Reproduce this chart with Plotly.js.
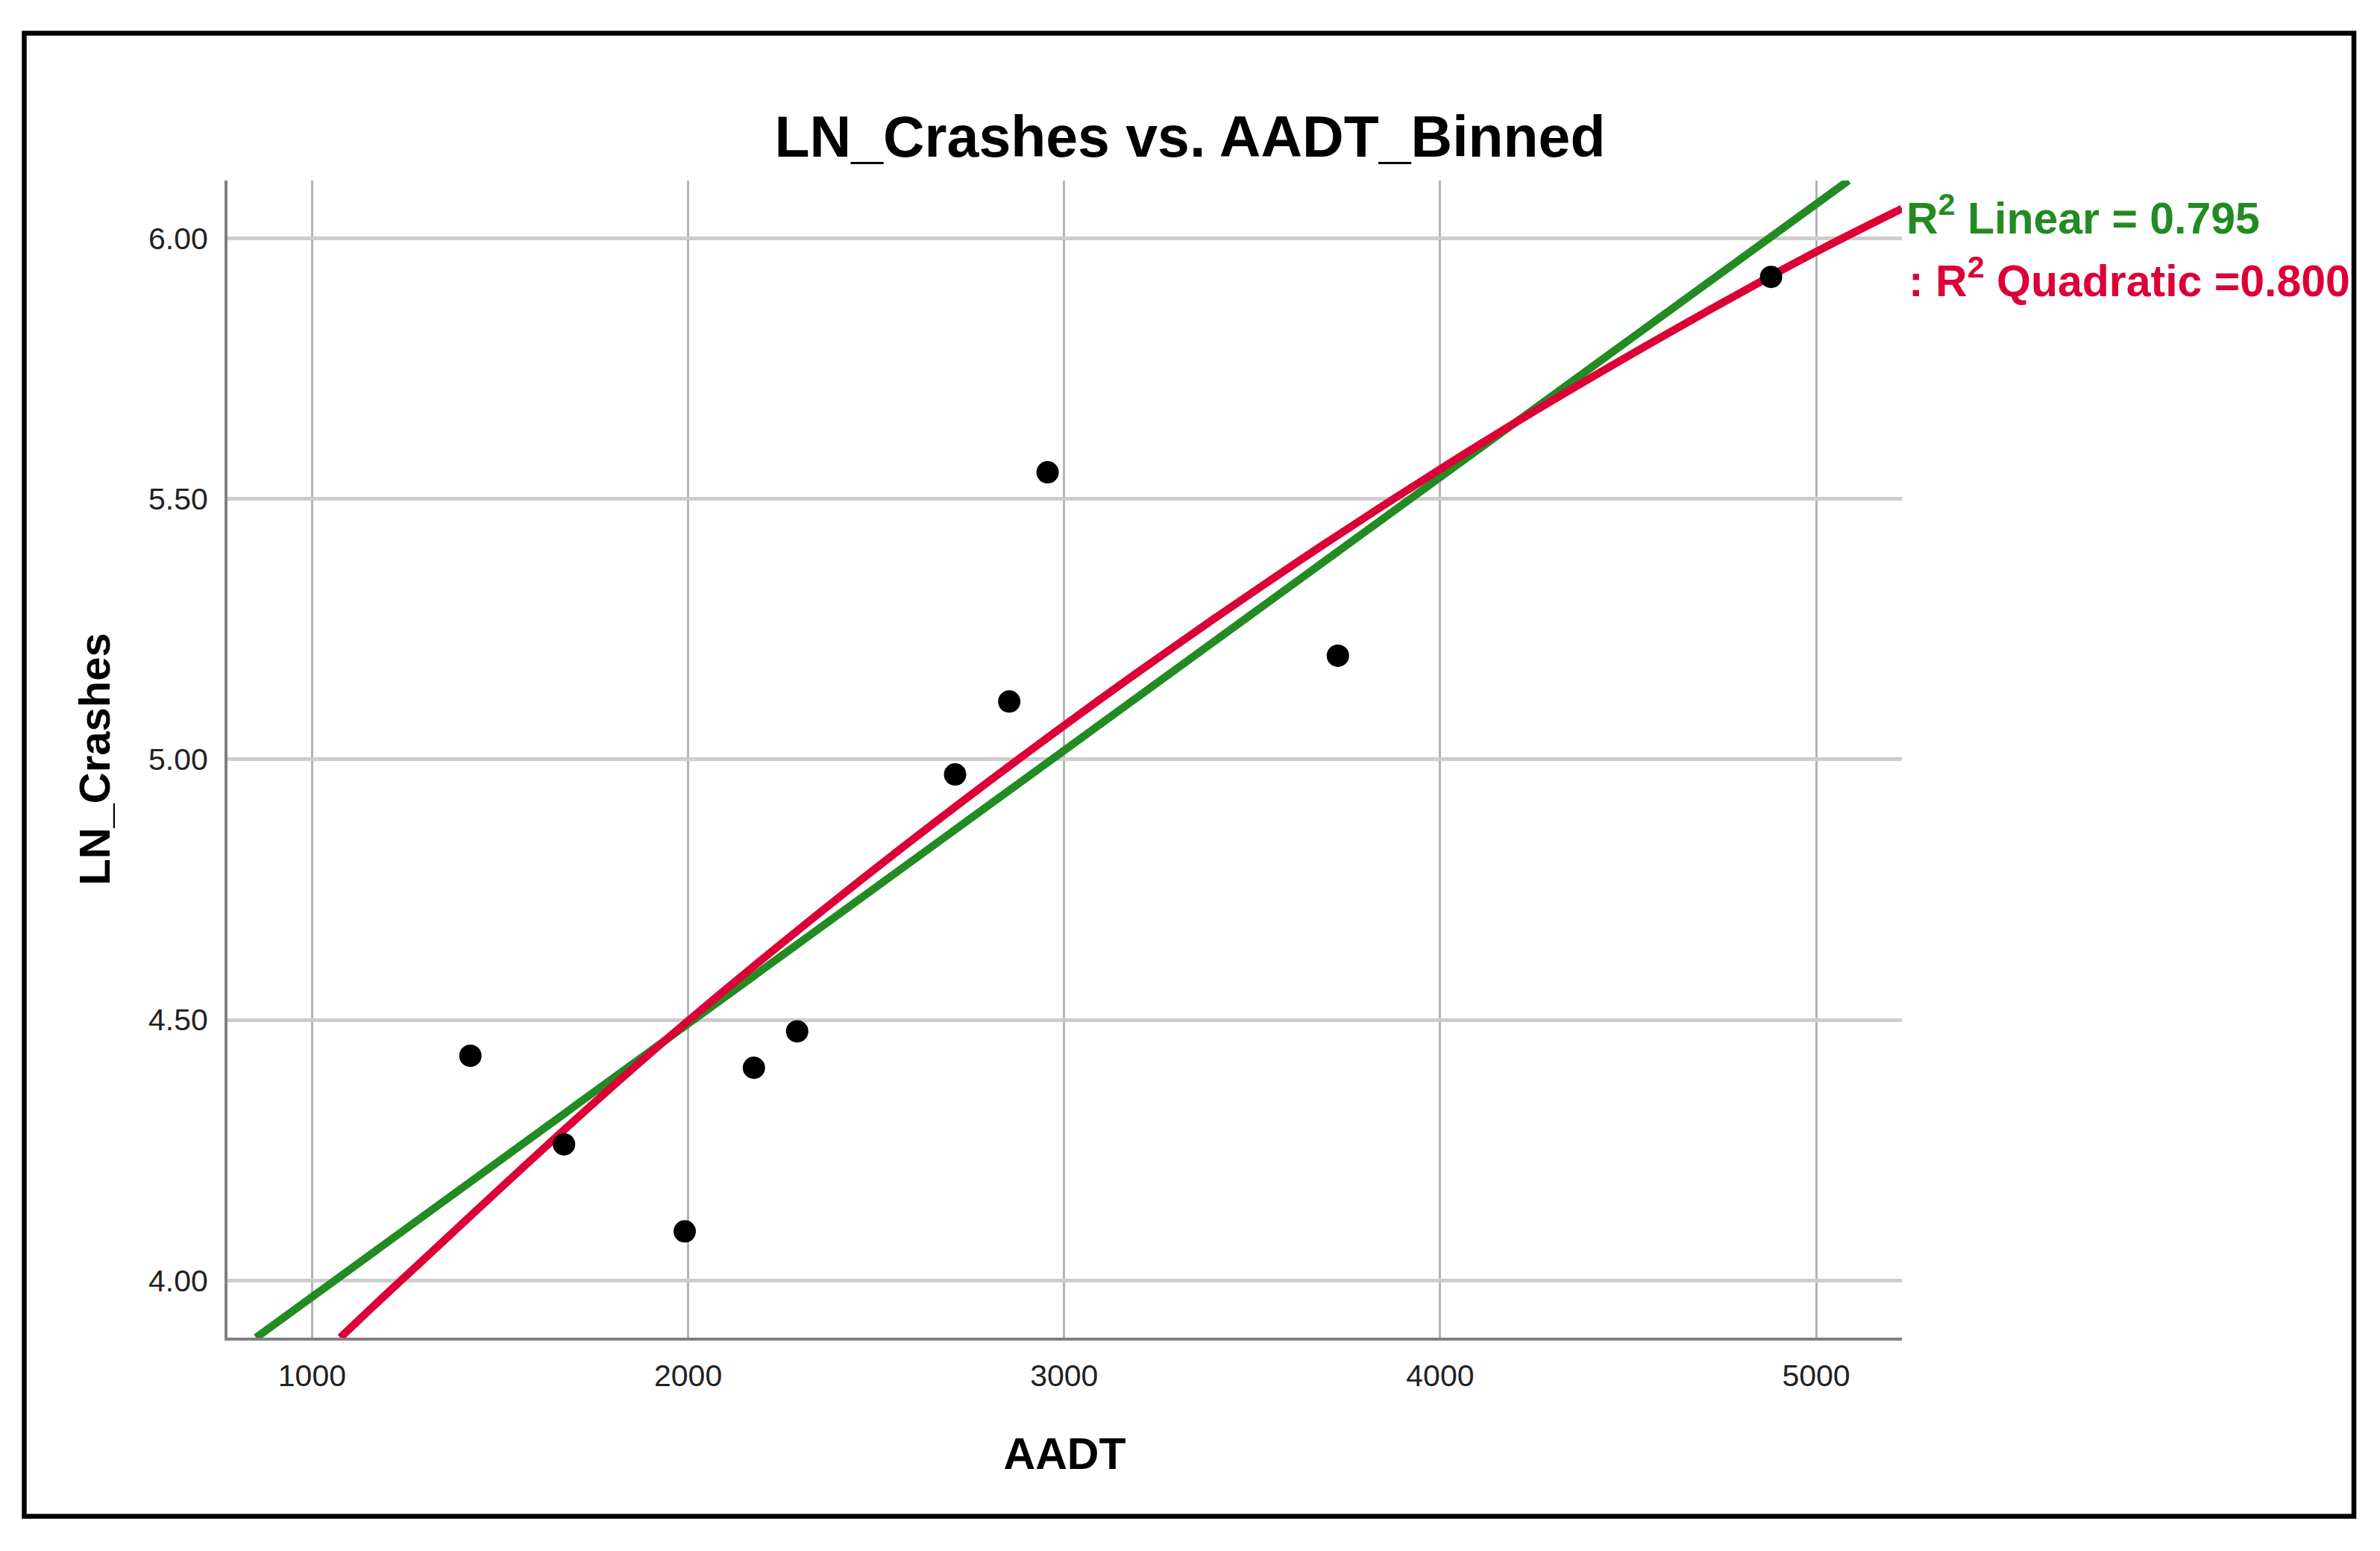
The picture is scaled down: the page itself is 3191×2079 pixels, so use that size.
<!DOCTYPE html>
<html>
<head>
<meta charset="utf-8">
<script src="https://cdn.plot.ly/plotly-3.0.1.min.js"></script>
<style>
  html, body { margin: 0; padding: 0; background: #ffffff; }
  #chart { width: 3191px; height: 2079px; }
</style>
</head>
<body>
<div id="chart"></div>
<script>
const aadt = [1421, 1670, 1991, 2175, 2290, 2710, 2854, 2956, 3728, 4880];
const lnCrashes = [4.431, 4.261, 4.094, 4.408, 4.478, 4.971, 5.111, 5.551, 5.199, 5.926];

// Fit lines
const linearFitX = [851, 5086];
const linearFitY = [3.890, 6.111];
const quadFitX = [1075, 1243, 1995, 3000, 4000, 4880, 5228];
const quadFitY = [3.890, 4.004, 4.495, 5.065, 5.557, 5.928, 6.057];

// Axis ticks
const xTicks = [1000, 2000, 3000, 4000, 5000];
const yTicks = [4.0, 4.5, 5.0, 5.5, 6.0];

// Labels
const chartTitle = "LN_Crashes vs. AADT_Binned";
const xTitle = "AADT";
const yTitle = "LN_Crashes";
const linearLabel = "R<sup>2</sup> Linear = 0.795";
const quadLabel = ": R<sup>2</sup> Quadratic =0.800";

const FONT = "Liberation Sans, Arial, sans-serif";
const GREEN = "#228B22";
const RED = "#DC0037";

// Plot-area geometry (pixels)
const W = 3191, H = 2079;
const L = 305, R = 2550, T = 242, B = 1793;
const pw = R - L, ph = B - T;
const px = v => (v - L) / pw;
const py = v => (B - v) / ph;

const traces = [
  {
    x: linearFitX, y: linearFitY, type: "scatter", mode: "lines",
    line: { color: GREEN, width: 10.5 }, hoverinfo: "skip"
  },
  {
    x: quadFitX, y: quadFitY, type: "scatter", mode: "lines",
    line: { color: RED, width: 10.5, shape: "spline", smoothing: 1 }, hoverinfo: "skip"
  },
  {
    x: aadt, y: lnCrashes, type: "scatter", mode: "markers",
    marker: { color: "#000000", size: 30, line: { width: 0 } }
  }
];

const layout = {
  width: W, height: H,
  margin: { l: L, r: W - R, t: T, b: H - B, pad: 0 },
  paper_bgcolor: "#ffffff",
  plot_bgcolor: "#ffffff",
  showlegend: false,
  font: { family: FONT, color: "#111111" },
  title: {
    text: chartTitle,
    font: { family: FONT, size: 77, weight: "bold", color: "#000000" },
    x: 0.5, xref: "container", xanchor: "center",
    y: 1 - 183 / H, yref: "container", yanchor: "middle"
  },
  xaxis: {
    range: [775, 5228],
    tickmode: "array", tickvals: xTicks, ticktext: xTicks.map(v => String(v)),
    ticks: "", ticklabelstandoff: 12,
    tickfont: { family: FONT, size: 41, color: "#222222" },
    showline: true, linecolor: "#808080", linewidth: 4, mirror: false,
    showgrid: true, gridcolor: "#b4b4b4", gridwidth: 3,
    zeroline: false,
    title: {
      text: xTitle, standoff: 62,
      font: { family: FONT, size: 59, weight: "bold", color: "#000000" }
    }
  },
  yaxis: {
    range: [3.890, 6.111],
    tickmode: "array", tickvals: yTicks, ticktext: yTicks.map(v => v.toFixed(2)),
    ticks: "", ticklabelstandoff: 14,
    tickfont: { family: FONT, size: 41, color: "#222222" },
    showline: true, linecolor: "#808080", linewidth: 4, mirror: false,
    showgrid: true, gridcolor: "#cdcdcd", gridwidth: 5,
    zeroline: false,
    title: {
      text: yTitle, standoff: 34,
      font: { family: FONT, size: 58, weight: "bold", color: "#000000" }
    }
  },
  annotations: [
    {
      text: linearLabel, showarrow: false,
      xref: "paper", yref: "paper", x: px(2554), y: py(289),
      xanchor: "left", yanchor: "middle",
      font: { family: FONT, size: 59, weight: "bold", color: GREEN }
    },
    {
      text: quadLabel, showarrow: false,
      xref: "paper", yref: "paper", x: px(2557), y: py(373),
      xanchor: "left", yanchor: "middle",
      font: { family: FONT, size: 59, weight: "bold", color: RED }
    }
  ],
  shapes: [
    {
      type: "rect", xref: "paper", yref: "paper",
      x0: px(32.5), x1: px(3156), y0: py(2032.5), y1: py(44.5),
      line: { color: "#000000", width: 6.5 }, fillcolor: "rgba(0,0,0,0)"
    }
  ]
};

Plotly.newPlot("chart", traces, layout, { displayModeBar: false, staticPlot: true });
</script>
</body>
</html>
